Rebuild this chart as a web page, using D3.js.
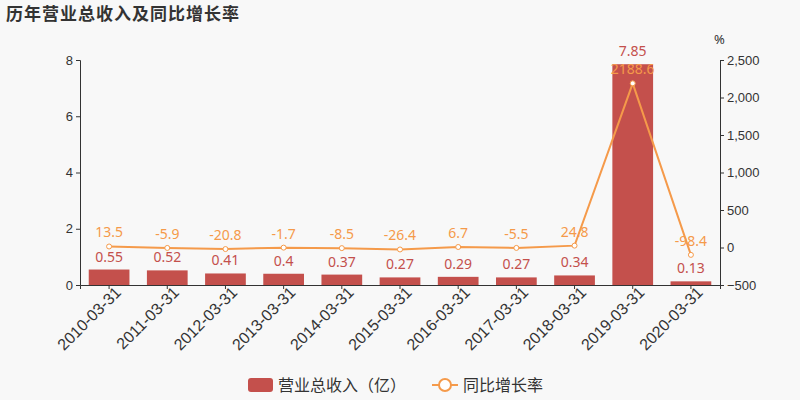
<!DOCTYPE html>
<html><head><meta charset="utf-8">
<script src="https://cdn.jsdelivr.net/npm/d3@7/dist/d3.min.js"></script>
<style>body{margin:0;background:#f8f8f8;font-family:"Noto Sans","Noto Sans CJK SC",sans-serif}</style>
</head><body><div id="chart"></div>
<script>
var categories = ["2010-03-31","2011-03-31","2012-03-31","2013-03-31","2014-03-31","2015-03-31","2016-03-31","2017-03-31","2018-03-31","2019-03-31","2020-03-31"];
var revenue = [0.55,0.52,0.41,0.4,0.37,0.27,0.29,0.27,0.34,7.85,0.13];
var growth = [13.5,-5.9,-20.8,-1.7,-8.5,-26.4,6.7,-5.5,24.8,2188.6,-98.4];
var leftTicks = [0,2,4,6,8];
var rightTicks = [-500,0,500,1000,1500,2000,2500];

var barColor = "#c4504c", lineColor = "#f59a4a";
var svg = d3.select('#chart').append('svg').attr('width',800).attr('height',400)
  .style('background','#f8f8f8').style('font-family','"Noto Sans","Noto Sans CJK SC",sans-serif');

var x = d3.scaleBand().domain(categories).range([80,720]).paddingInner(0.3).paddingOuter(0.15);
var yL = d3.scaleLinear().domain([0,8]).range([285,60]);
var yR = d3.scaleLinear().domain([-500,2500]).range([285,60]);

svg.append('text').attr('x',6).attr('y',20).text('历年营业总收入及同比增长率')
  .attr('font-size',17).attr('font-weight','bold').attr('letter-spacing',1).attr('fill','#333');

var gl = svg.append('g').attr('transform','translate(80,0)')
  .call(d3.axisLeft(yL).tickValues(leftTicks).tickSize(4));
var gr = svg.append('g').attr('transform','translate(720,0)')
  .call(d3.axisRight(yR).tickValues(rightTicks).tickSize(4).tickFormat(d3.format(',')));
[gl,gr].forEach(function(g){
  g.selectAll('path,line').attr('stroke','#333');
  g.selectAll('text').attr('font-size',13).attr('fill','#333');
});
svg.append('text').attr('x',714).attr('y',44).text('%').attr('font-size',13).attr('fill','#333');

var gx = svg.append('g').attr('transform','translate(0,285)')
  .call(d3.axisBottom(x).tickSize(4));
gx.selectAll('path,line').attr('stroke','#333');
gx.selectAll('text').attr('font-size',16).attr('fill','#333')
  .attr('text-anchor','end').attr('dx','0.2em').attr('dy','0.5em')
  .attr('transform','rotate(-45)');

svg.selectAll('rect.bar').data(revenue).enter().append('rect')
  .attr('x',function(d,i){return x(categories[i]);}).attr('width',x.bandwidth())
  .attr('y',function(d){return yL(d);}).attr('height',function(d){return 285-yL(d);})
  .attr('fill',barColor);
svg.selectAll('text.bl').data(revenue).enter().append('text')
  .attr('x',function(d,i){return x(categories[i])+x.bandwidth()/2;})
  .attr('y',function(d){return yL(d)-8;}).attr('text-anchor','middle')
  .attr('font-size',14).attr('fill',barColor).text(function(d){return d;});

var cx = function(d,i){return x(categories[i])+x.bandwidth()/2;};
svg.append('path').datum(growth)
  .attr('d',d3.line().x(cx).y(function(d){return yR(d);}))
  .attr('fill','none').attr('stroke',lineColor).attr('stroke-width',2);
svg.selectAll('circle.pt').data(growth).enter().append('circle')
  .attr('cx',cx).attr('cy',function(d){return yR(d);}).attr('r',2.5)
  .attr('fill','#fff').attr('stroke',lineColor);
svg.selectAll('text.gl').data(growth).enter().append('text')
  .attr('x',cx).attr('y',function(d){return yR(d)-9;}).attr('text-anchor','middle')
  .attr('font-size',14).attr('fill',lineColor).text(function(d){return d;});

var lg = svg.append('g');
lg.append('rect').attr('x',248).attr('y',378).attr('width',25).attr('height',14).attr('rx',3).attr('fill',barColor);
lg.append('text').attr('x',278).attr('y',391).text('营业总收入（亿）').attr('font-size',16).attr('fill','#333');
lg.append('line').attr('x1',432).attr('x2',458).attr('y1',385).attr('y2',385).attr('stroke',lineColor).attr('stroke-width',2);
lg.append('circle').attr('cx',445).attr('cy',385).attr('r',6).attr('fill','#fff').attr('stroke',lineColor).attr('stroke-width',2);
lg.append('text').attr('x',463).attr('y',391).text('同比增长率').attr('font-size',16).attr('fill','#333');
</script></body></html>
